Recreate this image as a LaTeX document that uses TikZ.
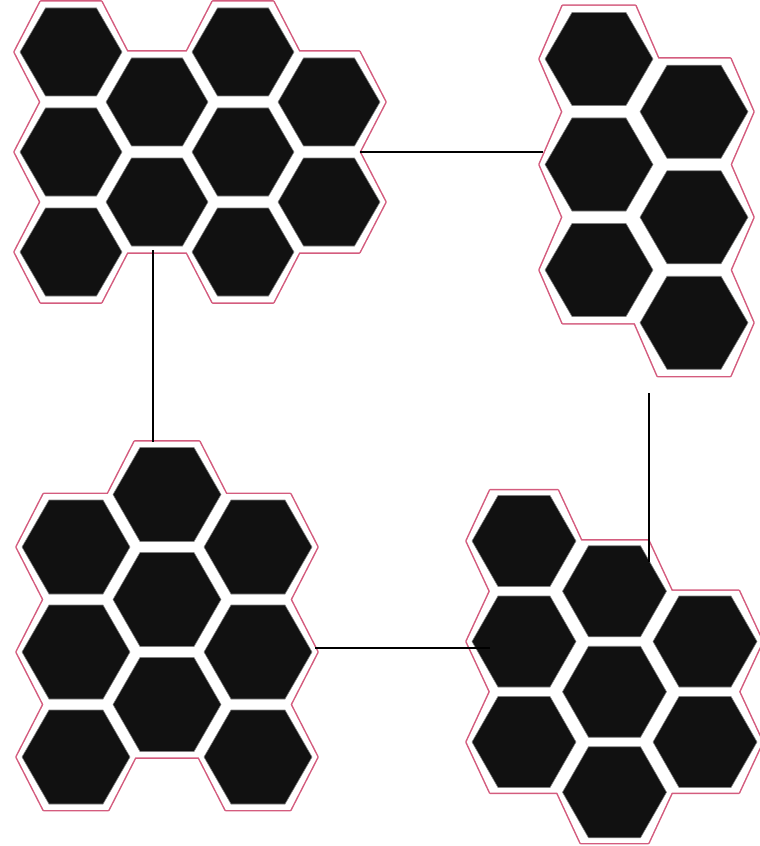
\documentclass[tikz,border=0pt]{standalone}
\usepackage{xcolor}
\usepackage{tikz}
\definecolor{rimpink}{RGB}{212, 92, 126}
\definecolor{cellblack}{RGB}{17, 17, 17}

\tikzset{
    hexrim/.style={draw=rimpink, line width=2.6pt, line join=round},
    hexgap/.style={fill=white},
    hexcellstyle/.style={fill=cellblack, draw=black!50, line width=0.5pt},
    link/.style={draw=black, line width=1pt}
}

% hexagon path: centre x, centre y, half width, half top edge, half height
\newcommand{\hexcell}[5]{(#1+#3,#2) -- (#1+#4,#2+#5) -- (#1-#4,#2+#5) -- (#1-#3,#2) -- (#1-#4,#2-#5) -- (#1+#4,#2-#5) -- cycle}

% one cluster: origin x, origin y, column step, row step, half width, half height, cells
\newcommand{\hexgroup}[7]{%
    \pgfmathsetmacro\rima{#5+5.3}
    \pgfmathsetmacro\rimb{#3-#5-4.7}
    \pgfmathsetmacro\rimh{#4/2+0.3}
    \foreach \i/\j in {#7} {
        \pgfmathsetmacro\cx{#1+(\i)*#3}
        \pgfmathsetmacro\cy{#2+(\j)*#4}
        \draw[hexrim] \hexcell{\cx}{\cy}{\rima}{\rimb}{\rimh};
    }
    \foreach \i/\j in {#7} {
        \pgfmathsetmacro\cx{#1+(\i)*#3}
        \pgfmathsetmacro\cy{#2+(\j)*#4}
        \path[hexgap] \hexcell{\cx}{\cy}{\rima}{\rimb}{\rimh};
    }
    \foreach \i/\j in {#7} {
        \pgfmathsetmacro\cx{#1+(\i)*#3}
        \pgfmathsetmacro\cy{#2+(\j)*#4}
        \path[hexcellstyle] \hexcell{\cx}{\cy}{#5}{#5/2}{#6};
    }
}

\begin{document}
\begin{tikzpicture}[x=0.03cm, y=-0.03cm]
    \useasboundingbox (0,0) rectangle (759,846);

    % clusters
    \hexgroup{71}{52}{86}{100}{51}{44}{0/0,0/1,0/2,1/0.5,1/1.5,2/0,2/1,2/2,3/0.5,3/1.5}
    \hexgroup{599}{59}{95}{105.5}{54}{46.5}{0/0,0/1,0/2,1/0.5,1/1.5,1/2.5}
    \hexgroup{76}{547}{91}{105}{54}{47}{0/0,0/1,0/2,1/-0.5,1/0.5,1/1.5,2/0,2/1,2/2}
    \hexgroup{524}{541}{90.5}{100.5}{52}{45.5}{0/0,0/1,0/2,1/0.5,1/1.5,1/2.5,2/1,2/2}

    % connector ends
    \coordinate (topleft-east) at (360,152);
    \coordinate (topright-west) at (543,152);
    \coordinate (topleft-south) at (153,250);
    \coordinate (botleft-north) at (153,442);
    \coordinate (botleft-east) at (315,648);
    \coordinate (botright-west) at (490,648);
    \coordinate (topright-south) at (649,393);
    \coordinate (botright-north) at (649,562);

    \draw[link] (topleft-east) -- (topright-west);
    \draw[link] (topleft-south) -- (botleft-north);
    \draw[link] (botleft-east) -- (botright-west);
    \draw[link] (topright-south) -- (botright-north);
\end{tikzpicture}
\end{document}
